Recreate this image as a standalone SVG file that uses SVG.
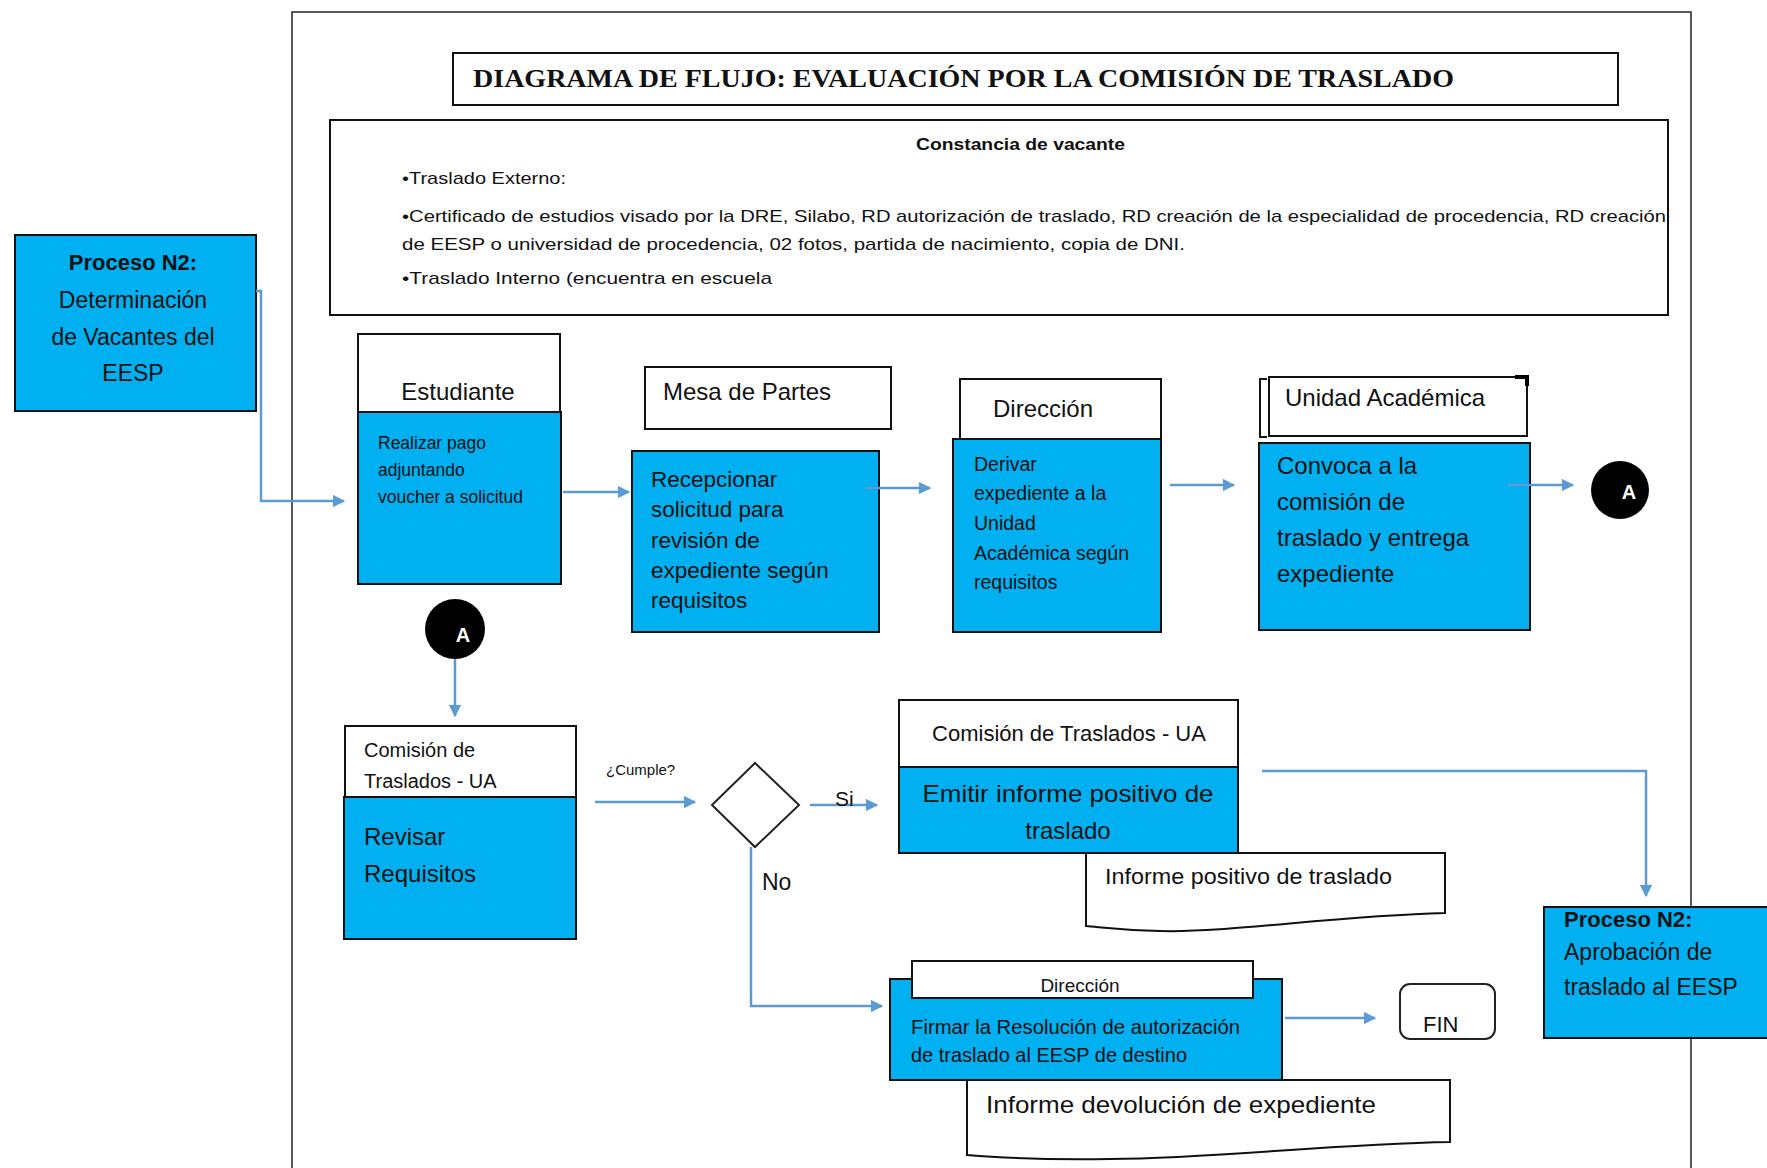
<svg xmlns="http://www.w3.org/2000/svg" width="1767" height="1168" viewBox="0 0 1767 1168">
<defs>
<marker id="ah" viewBox="0 0 10 10" refX="9" refY="5" markerWidth="5" markerHeight="5" orient="auto" markerUnits="strokeWidth">
<path d="M0,0 L10,5 L0,10 Z" fill="#5B9BD5"/>
</marker>
</defs>
<style>
.frame{fill:none;stroke:#222;stroke-width:1.5}
.wbox{fill:#fff;stroke:#111;stroke-width:2}
.bbox{fill:#00B0F0;stroke:#111;stroke-width:2}
.conn{fill:none;stroke:#5B9BD5;stroke-width:2.5;marker-end:url(#ah)}
.line{fill:none;stroke:#5B9BD5;stroke-width:2.5}
.t{font-family:"Liberation Sans",Arial,sans-serif;fill:#111}
.b{font-weight:bold}
.circ{fill:#000}
.ct{font-family:"Liberation Sans",Arial,sans-serif;font-weight:bold;fill:#fff;font-size:20px}
</style>
<rect width="1767" height="1168" fill="#fff"/>
<rect class="frame" x="292" y="12" width="1399" height="1200"/>

<g id="title">
<rect class="wbox" x="453" y="53" width="1165" height="52"/>
<text x="473" y="87" font-family="Liberation Serif,Times New Roman,serif" font-weight="bold" font-size="25" textLength="981" lengthAdjust="spacingAndGlyphs" fill="#111">DIAGRAMA DE FLUJO: EVALUACIÓN POR LA COMISIÓN DE TRASLADO</text>
</g>

<g id="info">
<rect class="wbox" x="330" y="120" width="1338" height="195"/>
<text class="t b" x="916" y="150" font-size="17" textLength="209" lengthAdjust="spacingAndGlyphs">Constancia de vacante</text>
<text class="t" x="402" y="184" font-size="17" textLength="164" lengthAdjust="spacingAndGlyphs">•Traslado Externo:</text>
<text class="t" x="402" y="222" font-size="17" textLength="1264" lengthAdjust="spacingAndGlyphs">•Certificado de estudios visado por la DRE, Silabo, RD autorización de traslado, RD creación de la especialidad de procedencia, RD creación</text>
<text class="t" x="402" y="250" font-size="17" textLength="783" lengthAdjust="spacingAndGlyphs">de EESP o universidad de procedencia, 02 fotos, partida de nacimiento, copia de DNI.</text>
<text class="t" x="402" y="284" font-size="17" textLength="370" lengthAdjust="spacingAndGlyphs">•Traslado Interno (encuentra en escuela</text>
</g>

<g id="proceso-vacantes">
<rect class="bbox" x="15" y="235" width="241" height="176"/>
<text class="t b" x="133" y="270" font-size="22" text-anchor="middle">Proceso N2:</text>
<text class="t" x="133" y="308" font-size="23" text-anchor="middle">Determinación</text>
<text class="t" x="133" y="345" font-size="23" text-anchor="middle">de Vacantes del</text>
<text class="t" x="133" y="381" font-size="23" text-anchor="middle">EESP</text>
</g>

<g id="estudiante">
<rect class="wbox" x="358" y="334" width="202" height="78"/>
<text class="t" x="458" y="400" font-size="24" text-anchor="middle">Estudiante</text>
<rect class="bbox" x="358" y="412" width="203" height="172"/>
<text class="t" x="378" y="449" font-size="17.5">Realizar pago</text>
<text class="t" x="378" y="476" font-size="17.5">adjuntando</text>
<text class="t" x="378" y="503" font-size="17.5">voucher a solicitud</text>
</g>

<g id="mesa-partes">
<rect class="wbox" x="645" y="367" width="246" height="62"/>
<text class="t" x="663" y="400" font-size="24">Mesa de Partes</text>
<rect class="bbox" x="632" y="451" width="247" height="181"/>
<text class="t" x="651" y="487" font-size="22.5">Recepcionar</text>
<text class="t" x="651" y="517" font-size="22.5">solicitud para</text>
<text class="t" x="651" y="548" font-size="22.5">revisión de</text>
<text class="t" x="651" y="578" font-size="22.5">expediente según</text>
<text class="t" x="651" y="608" font-size="22.5">requisitos</text>
</g>

<g id="direccion">
<rect class="bbox" x="953" y="439" width="208" height="193"/>
<rect class="wbox" x="960" y="379" width="201" height="60"/>
<text class="t" x="993" y="417" font-size="24">Dirección</text>
<text class="t" x="974" y="471" font-size="19.5">Derivar</text>
<text class="t" x="974" y="500" font-size="19.5">expediente a la</text>
<text class="t" x="974" y="530" font-size="19.5">Unidad</text>
<text class="t" x="974" y="560" font-size="19.5">Académica según</text>
<text class="t" x="974" y="589" font-size="19.5">requisitos</text>
</g>

<g id="unidad-academica">
<path d="M1267,379 H1260 V437 H1267" fill="none" stroke="#111" stroke-width="2"/>
<rect class="wbox" x="1269" y="377" width="258" height="59"/>
<path d="M1515,377 H1527 V386" fill="none" stroke="#000" stroke-width="4"/>
<text class="t" x="1285" y="406" font-size="24">Unidad Académica</text>
<rect class="bbox" x="1259" y="443" width="271" height="187"/>
<text class="t" x="1277" y="474" font-size="24">Convoca a la</text>
<text class="t" x="1277" y="510" font-size="24">comisión de</text>
<text class="t" x="1277" y="546" font-size="24">traslado y entrega</text>
<text class="t" x="1277" y="582" font-size="24">expediente</text>
</g>

<g id="conector-a-salida">
<circle class="circ" cx="1620" cy="490" r="29"/>
<text class="ct" x="1629" y="499" text-anchor="middle">A</text>
</g>

<g id="conector-a-entrada">
<circle class="circ" cx="455" cy="629" r="30"/>
<text class="ct" x="463" y="642" text-anchor="middle">A</text>
</g>

<g id="comision-revisar">
<rect class="wbox" x="345" y="726" width="231" height="71"/>
<text class="t" x="364" y="757" font-size="20">Comisión de</text>
<text class="t" x="364" y="788" font-size="20">Traslados - UA</text>
<rect class="bbox" x="344" y="797" width="232" height="142"/>
<text class="t" x="364" y="845" font-size="24">Revisar</text>
<text class="t" x="364" y="882" font-size="24">Requisitos</text>
</g>

<g id="decision">
<polygon points="755,763 799,805 755,847 712,805" fill="#fff" stroke="#222" stroke-width="2"/>
</g>

<g id="comision-emitir">
<rect class="wbox" x="899" y="700" width="339" height="67"/>
<text class="t" x="1069" y="741" font-size="22" text-anchor="middle">Comisión de Traslados - UA</text>
<rect class="bbox" x="899" y="767" width="339" height="86"/>
<text class="t" x="1068" y="802" font-size="24" text-anchor="middle" textLength="291" lengthAdjust="spacingAndGlyphs">Emitir informe positivo de</text>
<text class="t" x="1068" y="839" font-size="24" text-anchor="middle">traslado</text>
</g>

<g id="informe-positivo">
<path d="M1086,853 H1445 V913 C1330,916 1230,933 1160,931 C1120,930 1100,927 1086,926 Z" fill="#fff" stroke="#111" stroke-width="2"/>
<text class="t" x="1105" y="884" font-size="22" textLength="287" lengthAdjust="spacingAndGlyphs">Informe positivo de traslado</text>
</g>

<g id="proceso-aprobacion">
<rect class="bbox" x="1544" y="907" width="240" height="131"/>
<text class="t b" x="1564" y="927" font-size="22">Proceso N2:</text>
<text class="t" x="1564" y="960" font-size="23">Aprobación de</text>
<text class="t" x="1564" y="995" font-size="23">traslado al EESP</text>
</g>

<g id="direccion-firmar">
<rect class="bbox" x="890" y="979" width="392" height="101"/>
<rect class="wbox" x="912" y="961" width="341" height="37"/>
<text class="t" x="1080" y="992" font-size="19" text-anchor="middle">Dirección</text>
<text class="t" x="911" y="1034" font-size="19.5" textLength="329" lengthAdjust="spacingAndGlyphs">Firmar la Resolución de autorización</text>
<text class="t" x="911" y="1062" font-size="19.5" textLength="276" lengthAdjust="spacingAndGlyphs">de traslado al EESP de destino</text>
</g>

<g id="informe-devolucion">
<path d="M967,1080 H1450 V1142 C1330,1144 1220,1158 1110,1159 C1040,1160 990,1157 967,1155 Z" fill="#fff" stroke="#111" stroke-width="2"/>
<text class="t" x="986" y="1113" font-size="24" textLength="390" lengthAdjust="spacingAndGlyphs">Informe devolución de expediente</text>
</g>

<g id="fin">
<rect x="1400" y="984" width="95" height="55" rx="10" fill="#fff" stroke="#222" stroke-width="2"/>
<text class="t" x="1423" y="1032" font-size="22">FIN</text>
</g>

<g id="connectors">
<path class="conn" d="M256,291 H261 V501 H344"/>
<path class="conn" d="M563,492 H629"/>
<path class="conn" d="M865,488 H930"/>
<path class="conn" d="M1170,485 H1234"/>
<path class="conn" d="M1508,485 H1573"/>
<path class="conn" d="M455,659 V716"/>
<path class="conn" d="M595,802 H695"/>
<path class="conn" d="M810,805 H877"/>
<path class="conn" d="M751,847 V1006 H882"/>
<path class="conn" d="M1262,771 H1646 V896"/>
<path class="conn" d="M1285,1018 H1375"/>
</g>

<g id="labels">
<text class="t" x="606" y="775" font-size="15">¿Cumple?</text>
<text class="t" x="835" y="806" font-size="21">Si</text>
<text class="t" x="762" y="890" font-size="23">No</text>
</g>
</svg>
